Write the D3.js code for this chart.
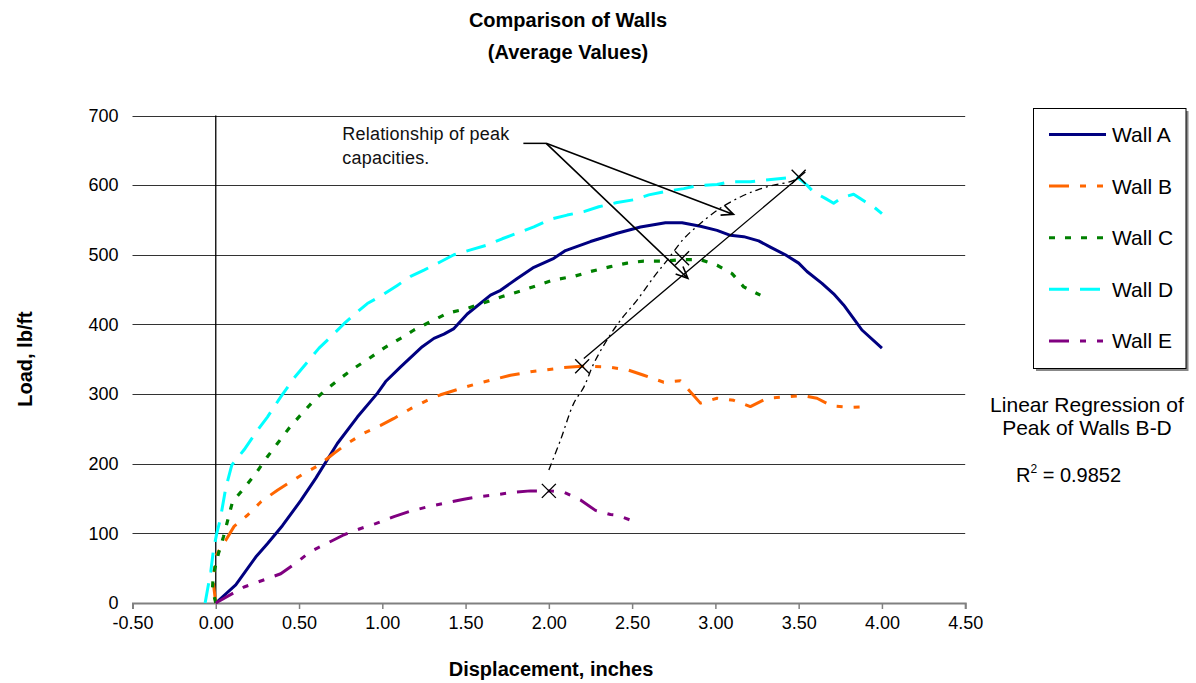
<!DOCTYPE html>
<html><head><meta charset="utf-8">
<script src="https://cdn.jsdelivr.net/npm/d3@7"></script>
<style>
html,body{margin:0;padding:0;background:#fff;}
svg{display:block;font-family:Arial,"Liberation Sans",Helvetica,sans-serif;}
</style></head>
<body><svg id="chart" width="1196" height="683"></svg>
<script>
// ---------- DATA ----------
const titleLines = ["Comparison of Walls", "(Average Values)"];
const xTicks = [-0.5, 0, 0.5, 1, 1.5, 2, 2.5, 3, 3.5, 4, 4.5];
const yTicks = [0, 100, 200, 300, 400, 500, 600, 700];
const seriesNames = ["Wall A", "Wall B", "Wall C", "Wall D", "Wall E"];

const wallA = [[0,0],[0.12,26],[0.24,66],[0.31,85],[0.40,111],[0.51,147],[0.60,179],[0.73,229],[0.85,267],[0.97,301],[1.02,318],[1.11,339],[1.24,368],[1.31,380],[1.37,386],[1.43,394],[1.51,415],[1.65,442],[1.71,449],[1.81,466],[1.91,482],[2.03,495],[2.10,506],[2.25,519],[2.41,531],[2.55,540],[2.70,546],[2.80,546],[2.91,541],[3.01,535],[3.09,528],[3.17,526],[3.26,520],[3.33,511],[3.42,500],[3.50,488],[3.55,476],[3.64,459],[3.71,444],[3.77,428],[3.85,402],[3.88,392],[4.00,366]];
const wallB = [[0,0],[-0.015,29],[-0.01,47],[0.006,70],[0.06,90],[0.11,110],[0.19,126],[0.27,145],[0.37,162],[0.45,174],[0.53,186],[0.62,198],[0.71,215],[0.79,229],[0.89,244],[0.99,255],[1.07,265],[1.17,279],[1.27,291],[1.35,299],[1.47,308],[1.57,315],[1.67,321],[1.77,327],[1.89,332],[1.99,335],[2.09,338],[2.20,340],[2.35,339],[2.47,335],[2.57,327],[2.69,317],[2.79,319],[2.84,306],[2.91,287],[3.01,294],[3.11,291],[3.21,282],[3.31,294],[3.43,296],[3.52,298],[3.61,294],[3.70,283],[3.81,281],[3.92,282]];
const wallC = [[0,0],[-0.02,20],[-0.015,40],[0.016,71],[0.046,95],[0.10,145],[0.17,165],[0.24,186],[0.31,210],[0.37,229],[0.44,251],[0.51,270],[0.59,291],[0.66,306],[0.75,323],[0.83,337],[0.92,351],[1.01,366],[1.11,380],[1.19,392],[1.29,404],[1.39,416],[1.51,423],[1.61,431],[1.72,440],[1.83,448],[1.93,456],[2.03,464],[2.15,469],[2.25,476],[2.37,483],[2.47,488],[2.57,491],[2.69,491],[2.79,493],[2.91,493],[3.01,485],[3.10,473],[3.17,454],[3.27,442]];
const wallD = [[-0.064,0],[-0.03,45],[-0.014,76],[0.006,100],[0.026,119],[0.06,165],[0.096,198],[0.17,220],[0.25,248],[0.31,267],[0.39,296],[0.47,323],[0.55,346],[0.62,366],[0.69,382],[0.77,401],[0.84,416],[0.91,430],[1.00,442],[1.09,456],[1.17,469],[1.25,478],[1.35,490],[1.43,500],[1.53,507],[1.63,514],[1.72,523],[1.81,531],[1.91,540],[2.01,551],[2.11,557],[2.21,562],[2.30,569],[2.41,575],[2.51,579],[2.60,586],[2.70,591],[2.81,595],[2.89,599],[3.01,601],[3.09,605],[3.21,605],[3.29,607],[3.41,610],[3.49,612],[3.55,600],[3.59,590],[3.66,581],[3.71,574],[3.76,582],[3.83,587],[3.90,576],[3.95,569],[4.00,559]];
const wallE = [[0,0],[0.17,23],[0.31,35],[0.39,42],[0.49,59],[0.57,74],[0.67,86],[0.77,98],[0.87,107],[0.96,114],[1.07,124],[1.17,132],[1.27,138],[1.37,143],[1.49,149],[1.59,153],[1.67,155],[1.79,159],[1.89,161],[2.00,161],[2.09,159],[2.19,148],[2.28,133],[2.37,127],[2.41,126],[2.49,119]];
const seriesData = [wallA, wallB, wallC, wallD, wallE];

// peaks of walls (X markers)
const peaks = [[2.0,161],[2.2,340],[2.8,495],[3.5,612]];
// regression straight line of peaks B-D (end points as read)
const regressionLine = [[2.21,351],[3.54,619]];
// dashed trend curve through peaks
const trendCurve = [[2.00,191],[2.07,234],[2.15,287],[2.21,310],[2.27,344],[2.35,378],[2.43,406],[2.53,435],[2.63,468],[2.71,492],[2.81,523],[2.91,545],[3.03,567],[3.15,583],[3.25,593],[3.35,600],[3.45,605],[3.50,610]];
// annotation (data coordinates)
const noteLines = ["Relationship of peak", "capacities."];
const noteLeader = [[1.847,660],[1.984,660]];
const noteArrowTargets = [[3.109,558],[2.835,466]];
const regressionNote = ["Linear Regression of", "Peak of Walls B-D"];
const r2Value = "0.9852";

// ---------- STYLES ----------
const colors = ["#000080", "#FF6600", "#008000", "#00FFFF", "#800080"];
const dashes = [null, "20,11,6,11,6,11", "6,10", "20,11", "20,11,6,11,6,11"];
const widths = [3, 3, 3.2, 3, 3];

// ---------- SCALES ----------
const svg = d3.select("#chart");
const x = d3.scaleLinear().domain([-0.5, 4.5]).range([132.5, 965.2]);
const y = d3.scaleLinear().domain([0, 700]).range([603, 115.5]);

// title
svg.append("g").selectAll("text").data(titleLines).join("text")
  .attr("x", 568).attr("y", (d,i)=>27 + i*32)
  .attr("text-anchor","middle").attr("font-size",20).attr("font-weight","bold").text(d=>d);

// gridlines
svg.append("g").selectAll("line").data(yTicks.filter(v=>v>0)).join("line")
  .attr("x1", x(-0.5)).attr("x2", x(4.5)).attr("y1", d=>Math.round(y(d))+0.5).attr("y2", d=>Math.round(y(d))+0.5)
  .attr("stroke","#333").attr("stroke-width",1);

// vertical axis at x=0
svg.append("line").attr("x1", x(0)).attr("x2", x(0)).attr("y1", y(700)).attr("y2", y(0))
  .attr("stroke","#000").attr("stroke-width",1.3);

// x axis
const fmt = d3.format(".2f");
const xAxis = d3.axisBottom(x).tickValues(xTicks).tickFormat(d=>fmt(d).replace("\u2212","-")).tickSize(6).tickPadding(7);
const gx = svg.append("g").attr("transform",`translate(0,${y(0)})`).call(xAxis);
gx.select(".domain").attr("stroke","#808080").attr("stroke-width",2);
gx.selectAll(".tick line").attr("stroke","#808080").attr("stroke-width",1.5);
gx.selectAll(".tick text").attr("font-size",18).attr("fill","#000").attr("font-family","Arial,'Liberation Sans',sans-serif");

// y axis labels
const yAxis = d3.axisLeft(y).tickValues(yTicks).tickFormat(d3.format("d")).tickSize(0).tickPadding(14);
const gy = svg.append("g").attr("transform",`translate(${x(-0.5)},0)`).call(yAxis);
gy.select(".domain").remove();
gy.selectAll(".tick text").attr("font-size",18).attr("fill","#000").attr("font-family","Arial,'Liberation Sans',sans-serif");

// axis titles
svg.append("text").attr("x", 551).attr("y", 676).attr("text-anchor","middle")
  .attr("font-size",20).attr("font-weight","bold").text("Displacement, inches");
svg.append("text").attr("transform","translate(32,359) rotate(-90)").attr("text-anchor","middle")
  .attr("font-size",20).attr("font-weight","bold").text("Load, lb/ft");

// series
const line = d3.line().x(d=>x(d[0])).y(d=>y(d[1]));
const gs = svg.append("g");
seriesData.forEach((s,i)=>{
  gs.append("path").attr("d", line(s)).attr("fill","none")
    .attr("stroke", colors[i]).attr("stroke-width", widths[i])
    .attr("stroke-dasharray", dashes[i]).attr("stroke-linejoin","round");
});

// trend curve (dashed) and regression line
svg.append("path").attr("d", line.curve(d3.curveCatmullRom)(trendCurve)).attr("fill","none")
  .attr("stroke","#000").attr("stroke-width",1.3).attr("stroke-dasharray","7,4,2,4");
line.curve(d3.curveLinear);
svg.append("path").attr("d", line(regressionLine)).attr("fill","none")
  .attr("stroke","#000").attr("stroke-width",1.3);

// X markers at peaks
const mk = 7;
const gm = svg.append("g");
peaks.forEach(p=>{
  const cx = x(p[0]), cy = y(p[1]);
  gm.append("path").attr("d",`M${cx-mk},${cy-mk}L${cx+mk},${cy+mk}M${cx-mk},${cy+mk}L${cx+mk},${cy-mk}`)
    .attr("stroke","#000").attr("stroke-width",1.4).attr("fill","none");
});

// annotation
svg.append("g").selectAll("text").data(noteLines).join("text")
  .attr("x", x(0.76)).attr("y",(d,i)=>140 + i*24).attr("font-size",18).attr("fill","#111")
  .attr("letter-spacing",0.2).text(d=>d);
svg.append("path").attr("d", line(noteLeader)).attr("stroke","#000").attr("stroke-width",1.5).attr("fill","none");
const origin = noteLeader[1];
noteArrowTargets.forEach(t=>{
  const x0 = x(origin[0]), y0 = y(origin[1]), x1 = x(t[0]), y1 = y(t[1]);
  const ang = Math.atan2(y1-y0, x1-x0), L = 13, a = 0.42;
  svg.append("path").attr("d",
    `M${x0},${y0}L${x1},${y1}M${x1-L*Math.cos(ang-a)},${y1-L*Math.sin(ang-a)}L${x1},${y1}L${x1-L*Math.cos(ang+a)},${y1-L*Math.sin(ang+a)}`)
    .attr("stroke","#000").attr("stroke-width",1.6).attr("fill","none");
});

// legend
const lg = svg.append("g");
lg.append("rect").attr("x",1036).attr("y",111).attr("width",152.5).attr("height",260).attr("fill","#888");
lg.append("rect").attr("x",1033.5).attr("y",108.5).attr("width",152.5).attr("height",260)
  .attr("fill","#fff").attr("stroke","#000").attr("stroke-width",1);
seriesNames.forEach((n,i)=>{
  const yy = 134.5 + i*51.6;
  lg.append("line").attr("x1",1049).attr("x2",1106).attr("y1",yy).attr("y2",yy)
    .attr("stroke",colors[i]).attr("stroke-width",3).attr("stroke-dasharray",dashes[i]);
  lg.append("text").attr("x",1112).attr("y",yy+7.5).attr("font-size",21).attr("fill","#000").text(n);
});

// regression note
svg.append("g").selectAll("text").data(regressionNote).join("text")
  .attr("x",1087).attr("y",(d,i)=>412 + i*22.5).attr("text-anchor","middle")
  .attr("font-size",21).attr("fill","#000").text(d=>d);
const r2 = svg.append("text").attr("x",1016).attr("y",482).attr("font-size",20).attr("fill","#000");
r2.append("tspan").text("R");
r2.append("tspan").attr("dy",-9).attr("font-size",12).text("2");
r2.append("tspan").attr("dy",9).text(" = " + r2Value);
</script></body></html>
